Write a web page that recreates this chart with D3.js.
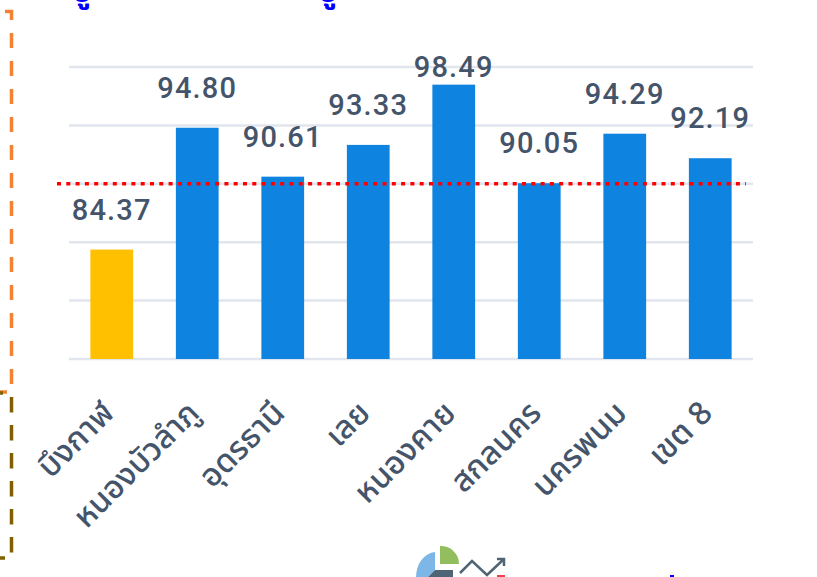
<!DOCTYPE html>
<html><head><meta charset="utf-8">
<script src="https://d3js.org/d3.v7.min.js"></script>
<style>html,body{margin:0;padding:0;background:#fff;overflow:hidden}svg{display:block}</style>
</head><body><svg id="c" width="817" height="577"></svg>
<script>
const categories=["บึงกาฬ","หนองบัวลำภู","อุดรธานี","เลย","หนองคาย","สกลนคร","นครพนม","เขต 8"];
const values=[84.37,94.80,90.61,93.33,98.49,90.05,94.29,92.19];
const barColors=["#FFC000","#0F83E0","#0F83E0","#0F83E0","#0F83E0","#0F83E0","#0F83E0","#0F83E0"];
const yTicks=[75,80,85,90,95,100];
const threshold=[90];
const svg=d3.select("#c");
const font="Roboto, 'Noto Sans', sans-serif";
const thaiFont="'Noto Sans Thai', 'Noto Sans', Roboto, sans-serif";
const x=d3.scaleBand().domain(categories).range([69,753]).paddingInner(0.5).paddingOuter(0.25);
const y=d3.scaleLinear().domain([75,100]).range([359,67]);

// frame fragments on the left edge
const deco=svg.append("g").attr("fill","none").attr("stroke-width",3.5);
deco.append("path").attr("d","M5 11.5H11.5V20").attr("stroke","#F58233");
deco.append("line").attr("x1",11.5).attr("x2",11.5).attr("y1",33).attr("y2",385)
 .attr("stroke","#F58233").attr("stroke-dasharray","15 13");
deco.append("line").attr("x1",0).attr("x2",7).attr("y1",392).attr("y2",392).attr("stroke","#F58233");
deco.append("line").attr("x1",0).attr("x2",3).attr("y1",393).attr("y2",393).attr("stroke","#7F6000");
deco.append("line").attr("x1",11.5).attr("x2",11.5).attr("y1",397).attr("y2",553)
 .attr("stroke","#7F6000").attr("stroke-dasharray","15.5 12.5");
deco.append("line").attr("x1",0).attr("x2",5).attr("y1",558).attr("y2",558).attr("stroke","#7F6000");

// clipped heading above the page edge
svg.append("g").selectAll("text").data([82,328]).join("text")
 .attr("x",d=>d).attr("y",2).attr("text-anchor","middle").attr("fill","#0000FF")
 .attr("font-family",thaiFont).attr("font-weight",700).attr("font-size",32).text("บู");

svg.append("g").selectAll("line").data(yTicks).join("line")
 .attr("x1",69).attr("x2",753).attr("y1",d=>y(d)).attr("y2",d=>y(d))
 .attr("stroke","#E1E5EE").attr("stroke-width",2.5);
svg.append("g").selectAll("rect").data(values).join("rect")
 .attr("x",(d,i)=>x(categories[i])).attr("width",x.bandwidth())
 .attr("y",d=>y(d)).attr("height",d=>359-y(d)).attr("fill",(d,i)=>barColors[i]);
svg.append("line").attr("x1",57).attr("x2",746).attr("y1",y(threshold[0])).attr("y2",y(threshold[0]))
 .attr("stroke","#FF0000").attr("stroke-width",3.5).attr("stroke-dasharray","4 5.3");
svg.append("g").selectAll("text").data(values).join("text")
 .attr("x",(d,i)=>x(categories[i])+x.bandwidth()/2).attr("y",d=>Math.max(y(d)-30,77))
 .attr("text-anchor","middle").attr("fill","#44546A").attr("font-family",font)
 .attr("font-size",29).attr("font-weight",500).attr("letter-spacing",1.2).text(d=>d.toFixed(2));
svg.append("g").selectAll("text").data(categories).join("text")
 .attr("transform",(d,i)=>`translate(${x(d)+x.bandwidth()/2-12},399) rotate(-45)`)
 .attr("text-anchor","end").attr("dy","0.7em").attr("fill","#44546A").attr("font-family",thaiFont)
 .attr("font-size",32).attr("font-weight",500).text(d=>d);

// logo clipped by the bottom edge
const logo=svg.append("g");
logo.append("path").attr("d","M435 552A21 25 0 0 0 416 577H428L435 570Z").attr("fill","#7DB7E8");
logo.append("path").attr("d","M440 546A18 18 0 0 1 459 564H440Z").attr("fill","#93BE5E");
logo.append("path").attr("d","M428 577L435 570H453V577Z").attr("fill","#4F6575");
logo.append("path").attr("d","M460 573L472 561L487 575L504 559M497 559H504V566")
 .attr("fill","none").attr("stroke","#4F6575").attr("stroke-width",2.5);
logo.append("rect").attr("x",497).attr("y",575).attr("width",8).attr("height",2).attr("fill","#F04050");
svg.append("rect").attr("x",670).attr("y",575).attr("width",4).attr("height",2).attr("fill","#0000FF");
</script></body></html>
